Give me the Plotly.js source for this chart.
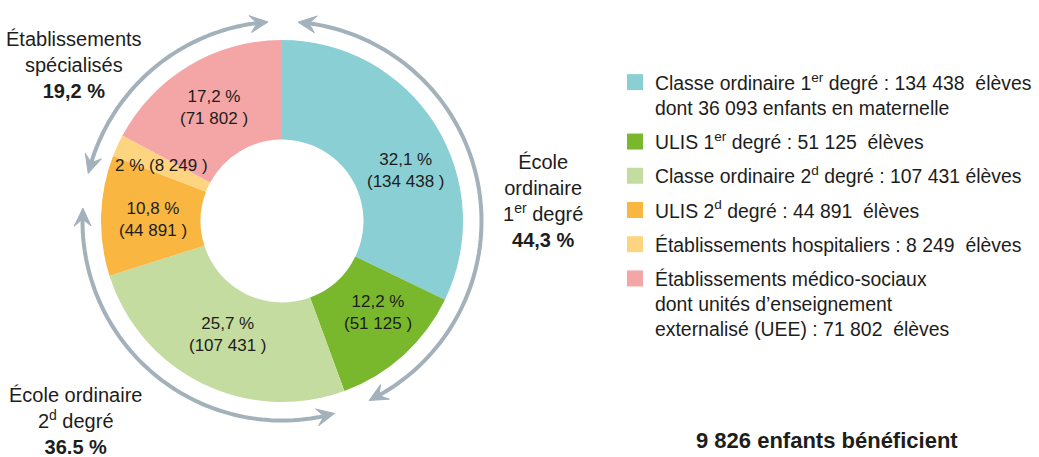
<!DOCTYPE html>
<html><head><meta charset="utf-8">
<script src="https://cdn.plot.ly/plotly-3.0.1.min.js"></script>
<style>html,body{margin:0;padding:0;background:#fff}</style>
</head><body><div id="chart" style="width:1039px;height:457px"></div>
<script>
// ---- data ----
const categories = [
  "Classe ordinaire 1<sup>er</sup> degré : 134 438  élèves<br>dont 36 093 enfants en maternelle",
  "ULIS 1<sup>er</sup> degré : 51 125  élèves",
  "Classe ordinaire 2<sup>d</sup> degré : 107 431 élèves",
  "ULIS 2<sup>d</sup> degré : 44 891  élèves",
  "Établissements hospitaliers : 8 249  élèves",
  "Établissements médico-sociaux<br>dont unités d’enseignement<br>externalisé (UEE) : 71 802  élèves"
];
const values = [134438, 51125, 107431, 44891, 8249, 71802];
const percentLabels = ["32,1", "12,2", "25,7", "10,8", "2", "17,2"];
const countLabels = ["134 438", "51 125", "107 431", "44 891", "8 249", "71 802"];
const groupNames = ["École<br>ordinaire<br>1<sup>er</sup> degré", "École ordinaire<br>2<sup>d</sup> degré", "Établissements<br>spécialisés"];
const groupPercents = ["44,3 %", "36.5 %", "19,2 %"];
const footnote = "9 826 enfants bénéficient";

// ---- styles / layout constants ----
const colors = ["#8acfd4", "#79b82c", "#c4dca0", "#f9b641", "#fdd47f", "#f4a6a6"];
const W = 1039, H = 457, CX = 282, CY = 221, R = 181;
const FONT = "Liberation Sans, Arial, sans-serif";
const TXT = "#1d1d1b";
const sliceLabelPos = [[406,170],[378,312],[228,334],[153,219],[161,165],[214,107]];
const groupLabelPos = [[543,201],[75,421],[74,65]];
const arrowColor = "#a3b1bb";
const arcTips = [[4.6,154.1],[164.7,273.7],[283.8,356]];

const traces = [{
  type: "pie",
  values: values,
  labels: categories,
  sort: false,
  direction: "clockwise",
  rotation: 0,
  hole: 0.45,
  marker: {colors: colors, line: {width: 0}},
  textinfo: "none",
  hoverinfo: "skip",
  showlegend: false,
  domain: {x: [(CX-R)/W, (CX+R)/W], y: [1-(CY+R)/H, 1-(CY-R)/H]}
}];
categories.forEach((c, i) => {
  traces.push({
    type: "scatter", x: [null], y: [null], mode: "markers",
    marker: {symbol: "square", size: 16, color: colors[i]},
    name: c, legendgroup: "g" + i, showlegend: true, hoverinfo: "skip"
  });
});

function pt(r, deg) {
  const a = deg * Math.PI / 180;
  return [CX + r * Math.sin(a), CY - r * Math.cos(a)];
}
const RA = 199.5, L = 18, HW = 8.5, N = 7;
const shapes = [];
arcTips.forEach(([a0, a1]) => {
  const toDeg = 180 / Math.PI;
  const s = a0 + (L - N) / RA * toDeg, e = a1 - (L - N) / RA * toDeg;
  let p = "";
  const n = 80;
  for (let k = 0; k <= n; k++) {
    const q = pt(RA, s + (e - s) * k / n);
    p += (k ? "L" : "M") + q[0].toFixed(2) + "," + q[1].toFixed(2);
  }
  shapes.push({type: "path", xref: "x", yref: "y", path: p, line: {color: arrowColor, width: 4}});
  [[a0, 1], [a1, -1]].forEach(([at, sg]) => {
    const tip = pt(RA, at);
    const back = at + sg * L / RA * toDeg;
    const notch = at + sg * (L - N) / RA * toDeg;
    const b1 = pt(RA + HW, back), b2 = pt(RA - HW, back), nn = pt(RA, notch);
    const hp = "M" + tip.join(",") + "L" + b1.join(",") + "L" + nn.join(",") + "L" + b2.join(",") + "Z";
    shapes.push({type: "path", xref: "x", yref: "y", path: hp, fillcolor: arrowColor, line: {color: arrowColor, width: 1}});
  });
});

const annotations = [];
values.forEach((v, i) => {
  const txt = i === 4 ? percentLabels[i] + " % (" + countLabels[i] + " )"
                      : percentLabels[i] + " %<br>(" + countLabels[i] + " )";
  annotations.push({x: sliceLabelPos[i][0], y: sliceLabelPos[i][1], xref: "x", yref: "y",
    text: txt, showarrow: false, font: {family: FONT, size: 17, color: TXT}});
});
groupNames.forEach((g, i) => {
  annotations.push({x: groupLabelPos[i][0], y: groupLabelPos[i][1], xref: "x", yref: "y",
    text: g + "<br><b>" + groupPercents[i] + "</b>", showarrow: false,
    font: {family: FONT, size: 20, color: TXT}});
});
annotations.push({x: 827, y: 440, xref: "x", yref: "y", text: "<b>" + footnote + "</b>",
  showarrow: false, font: {family: FONT, size: 22, color: TXT}});

const layout = {
  width: W, height: H,
  margin: {l: 0, r: 0, t: 0, b: 0, autoexpand: false},
  paper_bgcolor: "#fff", plot_bgcolor: "rgba(0,0,0,0)",
  xaxis: {range: [0, W], visible: false, fixedrange: true},
  yaxis: {range: [H, 0], visible: false, fixedrange: true},
  showlegend: true,
  legend: {x: 615 / W, xanchor: "left", y: 1 - 63 / H, yanchor: "top",
    font: {family: FONT, size: 19.4, color: TXT}, tracegroupgap: 6, valign: "top",
    bgcolor: "rgba(0,0,0,0)"},
  shapes: shapes,
  annotations: annotations,
  font: {family: FONT}
};
Plotly.newPlot("chart", traces, layout, {displayModeBar: false, staticPlot: true});
</script></body></html>
